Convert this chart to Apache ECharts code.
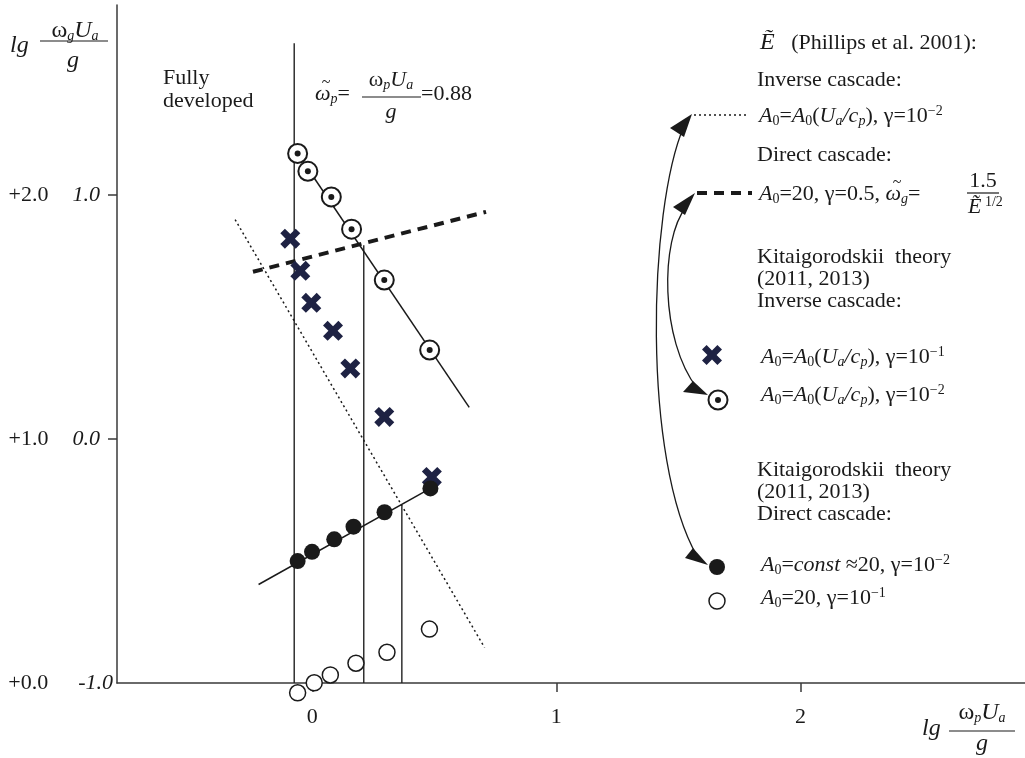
<!DOCTYPE html>
<html><head><meta charset="utf-8">
<script src="https://cdn.jsdelivr.net/npm/echarts@6/dist/echarts.min.js"></script>
<style>html,body{margin:0;padding:0;background:#fff}#c{width:1025px;height:758px}</style>
</head><body><div id="c"></div>
<script>
// ---- data ----
const xTickValues = [0, 1, 2];
const yLabelValues = [-1, 0, 1];
const yTickValues = [0, 1];
const yLabelsOuter = {'-1': '+0.0', '0': '+1.0', '1': '+2.0'};
const yLabelsInner = {'-1': '-1.0', '0': '0.0', '1': '1.0'};

const ringX = [-0.060, -0.018, 0.078, 0.161, 0.295, 0.481];
const ringY = [1.171, 1.098, 0.993, 0.861, 0.652, 0.365];
const crossX = [-0.090, -0.049, -0.004, 0.085, 0.156, 0.295, 0.490];
const crossY = [0.822, 0.690, 0.559, 0.444, 0.290, 0.091, -0.155];
const fillX = [-0.060, -0.001, 0.090, 0.169, 0.296, 0.484];
const fillY = [-0.500, -0.462, -0.411, -0.359, -0.300, -0.202];
const openX = [-0.060, 0.008, 0.074, 0.179, 0.306, 0.480];
const openY = [-1.040, -0.999, -0.967, -0.919, -0.874, -0.779];

const ringFitX = [-0.060, 0.643];
const ringFitY = [1.171, 0.130];
const fillFitX = [-0.220, 0.484];
const fillFitY = [-0.596, -0.202];
const phillipsInvX = [-0.316, 0.706];
const phillipsInvY = [0.900, -0.855];
const phillipsDirX = [-0.243, 0.712];
const phillipsDirY = [0.686, 0.932];
const vertX = [-0.074, 0.211, 0.367];
const vertTop = [1.623, 0.795, -0.275];
const vertBottom = -1.0;

// ---- helpers ----
const pairs = (xs, ys) => xs.map((x, i) => [x, ys[i]]);
const F = '"Liberation Serif", "DejaVu Serif", serif';
const C = '#1a1a1a';
const NAVY = '#1e2243';
const CROSS_PTS = [[0,2.3],[2.3,0],[5,2.7],[7.7,0],[10,2.3],[7.3,5],[10,7.7],[7.7,10],[5,7.3],[2.3,10],[0,7.7],[2.7,5]];
const CROSS = 'path://M' + CROSS_PTS.map(p => p.join(',')).join(' L') + ' Z';

const rich = {
  n: {font: '22px ' + F, fill: C, lineHeight: 30},
  i: {font: 'italic 22px ' + F, fill: C, lineHeight: 30},
  I: {font: 'italic 24px ' + F, fill: C, lineHeight: 30},
  N: {font: '24px ' + F, fill: C, lineHeight: 30},
  sb: {font: '14px ' + F, fill: C, height: 20, lineHeight: 20, verticalAlign: 'bottom'},
  sbi: {font: 'italic 14px ' + F, fill: C, height: 20, lineHeight: 20, verticalAlign: 'bottom'},
  sp: {font: '14px ' + F, fill: C, height: 20, lineHeight: 20, verticalAlign: 'top'}
};
function T(x, y, text, align) {
  return {type: 'text', x: x, y: y, z: 100, silent: true,
    style: {text: text, rich: rich, font: '22px ' + F, fill: C,
      align: align || 'left', textAlign: align || 'left',
      verticalAlign: 'middle', textVerticalAlign: 'middle'}};
}
function TILDE(x, y) {
  return {type: 'text', x: x, y: y, z: 100, silent: true,
    style: {text: '~', font: '16px ' + F, fill: C, align: 'center', textAlign: 'center',
      verticalAlign: 'middle', textVerticalAlign: 'middle'}};
}
function L(x1, y1, x2, y2, w, dash) {
  return {type: 'line', z: 100, silent: true, shape: {x1, y1, x2, y2},
    style: {stroke: C, lineWidth: w || 1.2, lineDash: dash || null}};
}
function P(points, color) {
  return {type: 'polygon', z: 100, silent: true, shape: {points}, style: {fill: color || C}};
}
function B(x1, y1, cpx1, cpy1, cpx2, cpy2, x2, y2) {
  return {type: 'bezierCurve', z: 100, silent: true,
    shape: {x1, y1, cpx1, cpy1, cpx2, cpy2, x2, y2},
    style: {stroke: C, lineWidth: 1.3, fill: null}};
}
const formulaA0 = (g) => '{i|A}{sb|0}{n|=}{i|A}{sb|0}{n|(}{i|U}{sbi|a}{i|/c}{sbi|p}{n|), γ=10}{sp|−' + g + '}';

const graphics = [
  // y-axis title
  T(10, 46, '{I|lg}'),
  T(75, 31, '{N|ω}{sbi|g}{I|U}{sbi|a}', 'center'),
  L(40, 41, 108, 41, 1.2),
  T(73, 61, '{I|g}', 'center'),
  // x-axis title
  T(922, 729, '{I|lg}'),
  T(982, 713, '{N|ω}{sbi|p}{I|U}{sbi|a}', 'center'),
  L(949, 731, 1015, 731, 1.2),
  T(982, 744, '{I|g}', 'center'),
  // annotations in plot
  T(163, 78, '{n|Fully}'),
  T(163, 101, '{n|developed}'),
  T(315, 94, '{i|ω}{sbi|p}{n|=}'),
  TILDE(326, 83),
  T(391, 80, '{n|ω}{sbi|p}{i|U}{sbi|a}', 'center'),
  L(362, 97, 421, 97, 1.2),
  T(391, 112, '{i|g}', 'center'),
  T(421, 94, '{n|=0.88}'),
  // legend texts
  T(760, 43, '{I|Ẽ}{n|   (Phillips et al. 2001):}'),
  T(757, 80, '{n|Inverse cascade:}'),
  T(759, 116, formulaA0('2')),
  T(757, 155, '{n|Direct cascade:}'),
  T(759, 194, '{i|A}{sb|0}{n|=20, γ=0.5, }{i|ω}{sbi|g}{n|=}'),
  TILDE(897, 183),
  T(983, 181, '{n|1.5}', 'center'),
  L(967, 193, 999, 193, 1.2),
  T(968, 207, '{i|Ẽ}{sp| 1/2}'),
  T(757, 257, '{n|Kitaigorodskii  theory}'),
  T(757, 279, '{n|(2011, 2013)}'),
  T(757, 301, '{n|Inverse cascade:}'),
  T(761, 357, formulaA0('1')),
  T(761, 395, formulaA0('2')),
  T(757, 470, '{n|Kitaigorodskii  theory}'),
  T(757, 492, '{n|(2011, 2013)}'),
  T(757, 514, '{n|Direct cascade:}'),
  T(761, 565, '{i|A}{sb|0}{n|=}{i|const}{n| ≈20, γ=10}{sp|−2}'),
  T(761, 598, '{i|A}{sb|0}{n|=20, γ=10}{sp|−1}'),
  // legend symbols
  L(694, 115, 748, 115, 1.5, [2, 3]),
  L(697, 193, 752, 193, 4, [10, 7]),
  P(CROSS_PTS.map(p => [702 + p[0] * 2, 345 + p[1] * 2]), NAVY),
  {type: 'circle', z: 100, silent: true, shape: {cx: 718, cy: 400, r: 9.5}, style: {fill: '#fff', stroke: C, lineWidth: 2}},
  {type: 'circle', z: 101, silent: true, shape: {cx: 718, cy: 400, r: 3}, style: {fill: C}},
  {type: 'circle', z: 100, silent: true, shape: {cx: 717, cy: 567, r: 8}, style: {fill: C}},
  {type: 'circle', z: 100, silent: true, shape: {cx: 717, cy: 601, r: 8}, style: {fill: '#fff', stroke: C, lineWidth: 1.5}},
  // arrows
  B(684, 126, 648, 210, 642, 460, 697, 556),
  P([[692, 114], [670, 128], [684, 137]]),
  P([[708, 565], [685, 558], [693, 548]]),
  B(686, 207, 660, 240, 660, 340, 697, 388),
  P([[695, 193], [673, 207], [685, 215]]),
  P([[708, 395], [683, 392], [693, 381]])
];

const axisColor = '#3a3a3a';
const chart = echarts.init(document.getElementById('c'), null, {renderer: 'canvas'});
chart.setOption({
  animation: false,
  backgroundColor: '#fff',
  grid: {left: 117, right: 0, top: 5, bottom: 75, containLabel: false, outerBoundsMode: 'none'},
  xAxis: {
    type: 'value', min: -0.8, max: 2.92,
    axisLine: {show: true, onZero: false, lineStyle: {color: axisColor, width: 1.5}},
    axisTick: {show: true, inside: false, length: 9, customValues: xTickValues, lineStyle: {color: axisColor, width: 1.5}},
    axisLabel: {customValues: xTickValues, margin: 23, fontFamily: F, fontSize: 22, color: C, formatter: v => String(v)},
    splitLine: {show: false}
  },
  yAxis: {
    type: 'value', min: -1, max: 1.78,
    axisLine: {show: true, onZero: false, lineStyle: {color: axisColor, width: 1.5}},
    axisTick: {show: true, inside: false, length: 9, customValues: yTickValues, lineStyle: {color: axisColor, width: 1.5}},
    axisLabel: {
      customValues: yLabelValues, margin: 4,
      formatter: v => {
        const k = String(Math.round(v));
        return '{a|' + yLabelsOuter[k] + '}' + (k === '-1' ? '{g2|}' : '{g|}') + '{b|' + yLabelsInner[k] + '}' + (k === '-1' ? '' : '{p|}');
      },
      rich: {
        a: {fontFamily: F, fontSize: 22, color: C},
        b: {fontFamily: F, fontSize: 22, fontStyle: 'italic', color: C},
        g: {width: 24},
        g2: {width: 30},
        p: {width: 13}
      }
    },
    splitLine: {show: false}
  },
  graphic: graphics,
  series: [
    ...vertX.map((x, i) => ({type: 'line', data: [[x, vertTop[i]], [x, vertBottom]], symbol: 'none', silent: true,
      lineStyle: {color: '#222', width: 1.4}, z: 2})),
    {type: 'line', data: pairs(phillipsInvX, phillipsInvY), symbol: 'none', silent: true,
      lineStyle: {color: C, width: 1.5, type: [2, 3]}, z: 2},
    {type: 'line', data: pairs(phillipsDirX, phillipsDirY), symbol: 'none', silent: true,
      lineStyle: {color: C, width: 4, type: [10, 7]}, z: 2},
    {type: 'line', data: pairs(ringFitX, ringFitY), symbol: 'none', silent: true,
      lineStyle: {color: C, width: 1.5}, z: 2},
    {type: 'line', data: pairs(fillFitX, fillFitY), symbol: 'none', silent: true,
      lineStyle: {color: C, width: 1.5}, z: 2},
    {type: 'scatter', data: pairs(crossX, crossY), symbol: CROSS, symbolSize: 20, clip: false,
      itemStyle: {color: NAVY, opacity: 1}, z: 5},
    {type: 'scatter', data: pairs(ringX, ringY), symbol: 'circle', symbolSize: 19, clip: false,
      itemStyle: {color: '#fff', borderColor: C, borderWidth: 2, opacity: 1}, z: 5},
    {type: 'scatter', data: pairs(ringX, ringY), symbol: 'circle', symbolSize: 6, clip: false,
      itemStyle: {color: C, opacity: 1}, z: 6},
    {type: 'scatter', data: pairs(fillX, fillY), symbol: 'circle', symbolSize: 16, clip: false,
      itemStyle: {color: C, opacity: 1}, z: 7},
    {type: 'scatter', data: pairs(openX, openY), symbol: 'circle', symbolSize: 16, clip: false,
      itemStyle: {color: '#fff', borderColor: C, borderWidth: 1.5, opacity: 1}, z: 5}
  ]
});
</script></body></html>
